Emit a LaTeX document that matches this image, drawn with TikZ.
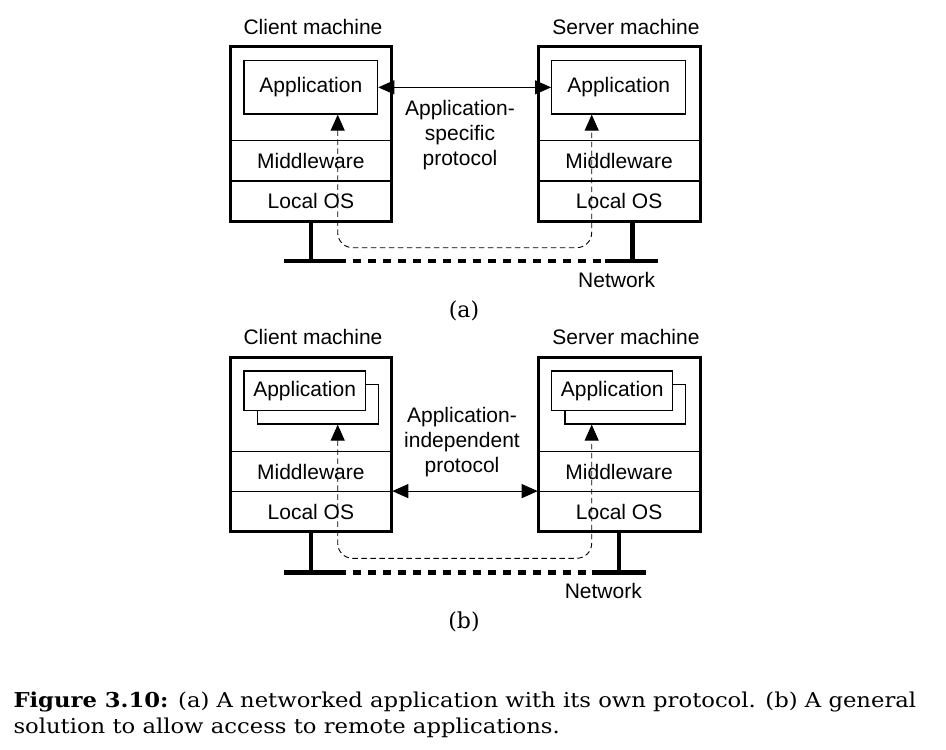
\documentclass[tikz,border=0pt]{standalone}
\usepackage{fontspec}
\setsansfont{Liberation Sans}
\newfontfamily\captionfont{DejaVu Serif}
\usepackage{tikz}
\usetikzlibrary{arrows.meta, positioning}

\begin{document}
\begin{tikzpicture}[
        x=1pt, y=-1pt,
        every node/.style={font=\sffamily\fontsize{21}{25}\selectfont},
        machine/.style={draw, line width=3pt, minimum width=161.7pt, minimum height=174.3pt, inner sep=0pt},
        layer/.style={draw, line width=1.2pt, minimum width=161.7pt, minimum height=40pt, inner sep=0pt},
        app/.style={draw, line width=1.2pt, fill=white, inner sep=0pt},
        netline/.style={line width=4.5pt},
        route/.style={line width=0.9pt, dash pattern=on 5.5pt off 3.5pt, rounded corners=15pt,
                      {Triangle[length=16pt,width=14pt]}-{Triangle[length=16pt,width=14pt]}},
        protocol/.style={line width=1pt, {Triangle[length=16pt,width=14pt]}-{Triangle[length=16pt,width=14pt]}},
        sublabel/.style={font=\captionfont\fontsize{22}{25}\selectfont},
        figcaption/.style={font=\captionfont\fontsize{20.5}{26}\selectfont, inner sep=0pt, anchor=base west}
      ]
      \useasboundingbox (0,0) rectangle (946,750);

      % (a) Client machine
      \node (clientTitleA) at (313,26.7) {Client machine};
      \node[layer] (clientMidA) at (310.85,160.85) {Middleware};
      \node[layer] (clientOSA) at (310.85,201) {Local OS};
      \node[machine] (clientA) at (310.85,133.85) {};
      \node[app, minimum width=133.7pt, minimum height=53.3pt] (clientAppA) at (310.85,87.35) {\raisebox{3pt}{Application}};

      % (a) Server machine
      \node (serverTitleA) at (626,26.7) {Server machine};
      \node[layer] (serverMidA) at (619.15,160.85) {Middleware};
      \node[layer] (serverOSA) at (619.15,201) {Local OS};
      \node[machine] (serverA) at (619.15,133.85) {};
      \node[app, minimum width=134pt, minimum height=53.3pt] (serverAppA) at (618.7,87.35) {\raisebox{3pt}{Application}};

      % (a) Protocol
      \node[align=center] (protoA) at (460,135) {Application-\\specific\\protocol};
      \draw[protocol] (clientAppA.east) -- (serverAppA.west);

      % (a) Network
      \coordinate (netAwest) at (284.3,261);
      \coordinate (netAeast) at (658.3,261);
      \coordinate (routeA) at (464,247.7);
      \draw[netline] (clientA.south) -- (clientA.south |- netAwest);
      \draw[netline] ([xshift=13.2pt]serverA.south) -- ([xshift=13.2pt]serverA.south |- netAeast);
      \draw[netline] (netAwest) -- ++(61.2,0);
      \draw[netline, dash pattern=on 8pt off 7pt] ([xshift=69pt]netAwest) -- ([xshift=-57pt]netAeast);
      \draw[netline] ([xshift=-53.3pt]netAeast) -- (netAeast);
      \draw[route] ([xshift=26.85pt]clientAppA.south) |- (routeA) -| ([xshift=-27pt]serverAppA.south);
      \node (netLabelA) at (616.7,280) {Network};
      \node[sublabel] (subA) at (464,311) {(a)};

      % (b) Client machine
      \node (clientTitleB) at (313,336.7) {Client machine};
      \node[layer] (clientMidB) at (310.85,471.7) {Middleware};
      \node[layer] (clientOSB) at (310.85,511.7) {Local OS};
      \node[machine] (clientB) at (310.85,444.5) {};
      \node[app, minimum width=121.4pt, minimum height=39.7pt] (clientBackB) at (318,404.15) {};
      \node[app, minimum width=121.3pt, minimum height=39.7pt] (clientAppB) at (304.65,390.85) {Application};

      % (b) Server machine
      \node (serverTitleB) at (626,336.7) {Server machine};
      \node[layer] (serverMidB) at (619.15,471.7) {Middleware};
      \node[layer] (serverOSB) at (619.15,511.7) {Local OS};
      \node[machine] (serverB) at (619.15,444.5) {};
      \node[app, minimum width=120.7pt, minimum height=39.7pt] (serverBackB) at (625.35,404.15) {};
      \node[app, minimum width=121pt, minimum height=39.7pt] (serverAppB) at (612.2,390.85) {Application};

      % (b) Protocol
      \node[align=center] (protoB) at (462,441.7) {Application-\\independent\\protocol};
      \draw[protocol] (clientOSB.north east) -- (serverOSB.north west);

      % (b) Network
      \coordinate (netBwest) at (284.3,572.3);
      \coordinate (netBeast) at (645.7,572.3);
      \coordinate (routeB) at (464,558.3);
      \draw[netline] (clientB.south) -- (clientB.south |- netBwest);
      \draw[netline] (serverB.south) -- (serverB.south |- netBeast);
      \draw[netline] (netBwest) -- ++(61.2,0);
      \draw[netline, dash pattern=on 8pt off 7pt] ([xshift=69pt]netBwest) -- ([xshift=-58pt]netBeast);
      \draw[netline] ([xshift=-54pt]netBeast) -- (netBeast);
      \draw[route] ([xshift=19.7pt]clientBackB.south) |- (routeB) -| ([xshift=-33.65pt]serverBackB.south);
      \node (netLabelB) at (603.3,590.7) {Network};
      \node[sublabel] (subB) at (464,622) {(b)};

      % Caption
      \node[figcaption] (captionTop) at (13.3,707)
        {\scalebox{1.107}[1]{\textbf{Figure 3.10:} (a) A networked application with its own protocol. (b) A general}};
      \node[figcaption] (captionBottom) at (13.3,733)
        {\scalebox{1.107}[1]{solution to allow access to remote applications.}};
  \end{tikzpicture}
\end{document}
